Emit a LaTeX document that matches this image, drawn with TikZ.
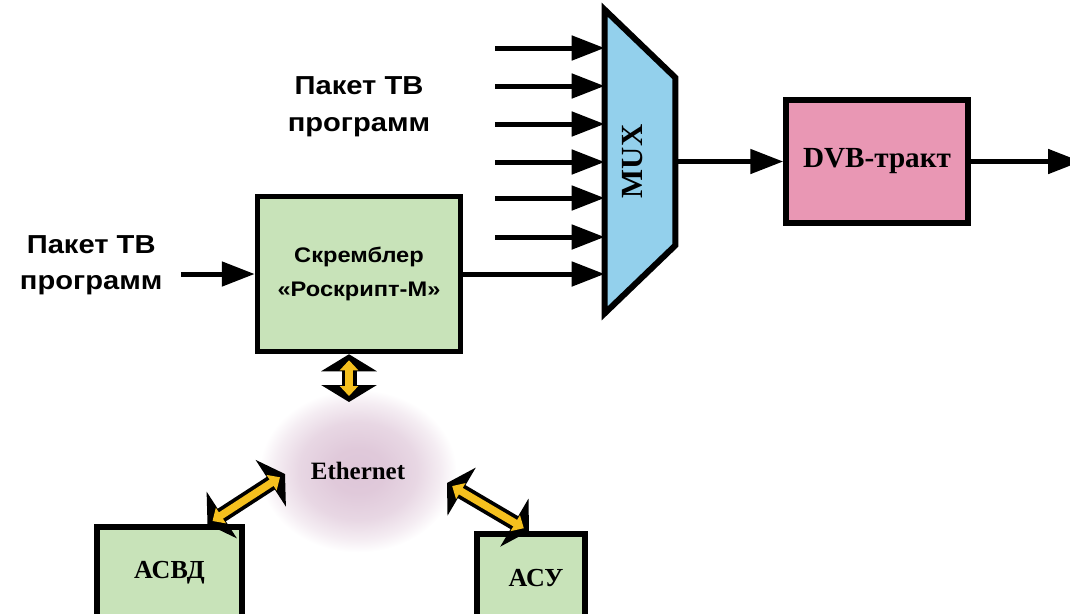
\documentclass[tikz,border=0pt]{standalone}
\usepackage{fontspec}
\setmainfont{Liberation Serif}
\newfontfamily\labelfont[FakeStretch=1.12]{Liberation Sans}
\usetikzlibrary{calc, arrows.meta, positioning, shapes.geometric}

\definecolor{boxgreen}{RGB}{200,227,185}
\definecolor{dvbpink}{RGB}{233,151,180}
\definecolor{muxblue}{RGB}{147,208,236}
\definecolor{busyellow}{RGB}{245,192,30}
\definecolor{cloudpink}{RGB}{222,198,216}
\colorlet{cloudA}{cloudpink!94!white}
\colorlet{cloudB}{cloudpink!70!white}
\colorlet{cloudC}{cloudpink!32!white}
\pgfdeclareradialshading{ethcloud}{\pgfpointorigin}{color(0bp)=(cloudpink); color(7bp)=(cloudA); color(15bp)=(cloudB); color(21bp)=(cloudC); color(25bp)=(white); color(50bp)=(white)}

\begin{document}
\begin{tikzpicture}[
                block/.style = {
                    rectangle,
                    draw=black, fill=boxgreen,
                    line width=0.11cm, inner sep=0pt,
                    text centered, align=center
                },
                txtsans/.style = {
                    inner sep=0pt, align=center,
                    font=\labelfont\bfseries\fontsize{14.8}{20.5}\selectfont
                },
                muxnode/.style = {
                    rectangle, inner sep=0pt,
                    minimum width=1.4cm, minimum height=6.06cm
                },
                muxline/.style = {
                    draw=black, fill=muxblue,
                    line width=0.12cm, line join=miter
                },
                arrow/.style = {
                    draw, line width=0.1cm,
                    -{Triangle[length=0.66cm, width=0.48cm]}
                },
                busback/.style = {
                    draw=black, line width=0.3cm,
                    {Triangle[length=0.34cm, width=1.1cm]}-{Triangle[length=0.34cm, width=1.1cm]}
                },
                busfront/.style = {
                    draw=busyellow, line width=0.15cm,
                    shorten <=0.12cm, shorten >=0.12cm,
                    {Triangle[length=0.2cm, width=0.36cm]}-{Triangle[length=0.2cm, width=0.36cm]}
                }
                ]
                \useasboundingbox (0,0) rectangle (21.4,-12.26);

                \node[ellipse, minimum width=3.94cm, minimum height=3.26cm, shading=ethcloud,
                      font=\bfseries\fontsize{14.2}{17}\selectfont] (eth) at (7.16,-9.42) {Ethernet};

                \node[muxnode] (mux) at (12.8,-3.23) {};
                \path[muxline] (mux.north west) -- (mux.south west)
                    -- ($(mux.south east)+(0,1.36)$) -- ($(mux.north east)+(0,-1.36)$) -- cycle;
                \node[rotate=90, inner sep=0pt, font=\bfseries\fontsize{17.5}{20}\selectfont]
                    (muxtext) at ([xshift=-0.14cm]mux.center) {MUX};

                \node[block, fill=dvbpink, minimum width=3.64cm, minimum height=2.46cm,
                      font=\bfseries\fontsize{16.6}{18}\selectfont] (dvb) at (17.54,-3.23) {DVB-тракт};
                \node[block, minimum width=4.06cm, minimum height=3.1cm,
                      font=\labelfont\bfseries\fontsize{12}{19.3}\selectfont] (scram) at (7.18,-5.48)
                      {Скремблер\\«Роскрипт-М»};
                \node[txtsans, left=1.84cm of scram, yshift=0.18cm] (pkgleft) {Пакет ТВ\\программ};
                \node[txtsans, above=1.14cm of scram] (pkgtop) {Пакет ТВ\\программ};
                \node[block, minimum width=2.9cm, minimum height=1.84cm,
                      font=\bfseries\fontsize{14.8}{18}\selectfont] (asvd) at (3.39,-11.46) {АСВД};
                \node[block, minimum width=2.16cm, minimum height=1.76cm,
                      font=\bfseries\fontsize{14.8}{18}\selectfont] (asu) at (10.62,-11.56)
                      {\hspace{0.2cm}АСУ};

                \foreach \y [count=\i] in {0.96,1.72,2.48,3.24,3.96,4.74}
                    \coordinate (in\i) at (9.9,-\y);
                \coordinate (out) at (21.62,-3.23);
                \coordinate (scramT) at ([xshift=-0.2cm]scram.south);
                \coordinate (busS) at (6.98,-8.04);
                \coordinate (asvdT) at ([xshift=0.76cm]asvd.north);
                \coordinate (busA) at (5.7,-9.48);
                \coordinate (busB) at (8.94,-9.66);
                \coordinate (asuT) at ([xshift=-0.04cm]asu.north);

                \foreach \i in {1,...,6}
                    \path[arrow] (in\i) -- (in\i -| mux.west);
                \path[arrow] (scram.east) -- (scram.east -| mux.west);
                \path[arrow] (mux.east) -- (dvb.west);
                \path[arrow] (dvb.east) -- (out);
                \path[arrow, shorten <=0.36cm] (pkgleft.east |- scram.west) -- (scram.west);

                \foreach \a/\b in {scramT/busS, asvdT/busA, busB/asuT}{
                    \path[busback] (\a) -- (\b);
                    \path[busfront] (\a) -- (\b);
                }
            \end{tikzpicture}
\end{document}
